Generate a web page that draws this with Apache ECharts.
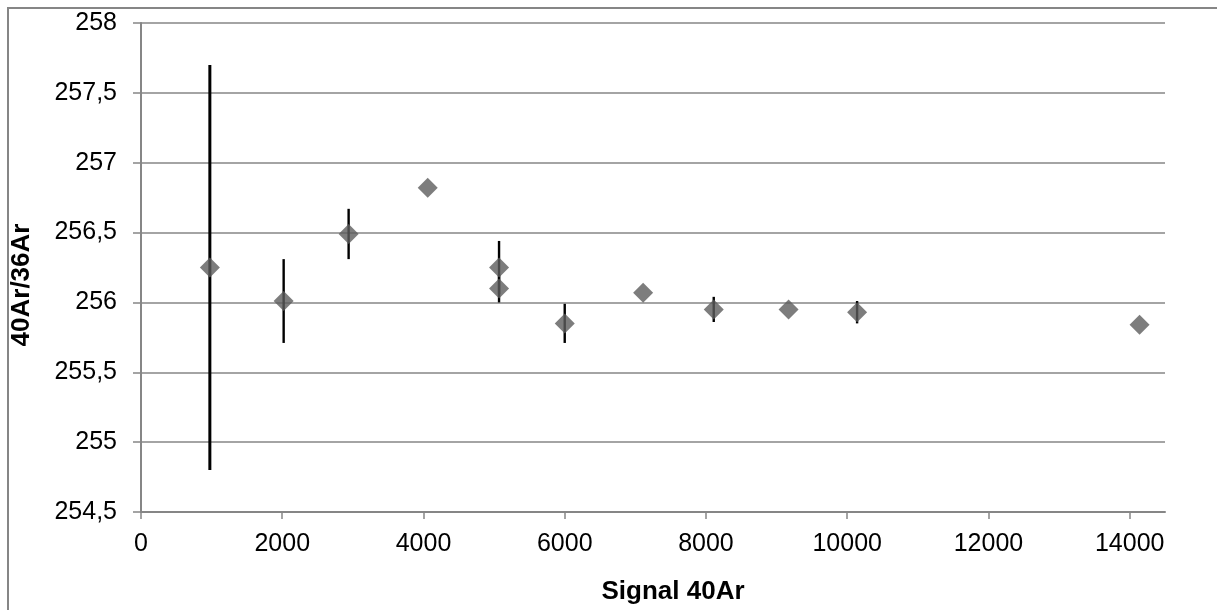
<!DOCTYPE html>
<html>
<head>
<meta charset="utf-8">
<script src="https://cdn.jsdelivr.net/npm/echarts@6/dist/echarts.min.js"></script>
<style>
html,body{margin:0;padding:0;background:#fff;}
#chart{width:1217px;height:610px;}
</style>
</head>
<body>
<div id="chart"></div>
<script>
// Data
const signal40Ar = [975, 2020, 2940, 4060, 5070, 5070, 6000, 7110, 8110, 9170, 10140, 14140];
const ratio4036 = [256.25, 256.01, 256.49, 256.82, 256.25, 256.10, 255.85, 256.07, 255.95, 255.95, 255.93, 255.84];
const ratioError = [1.45, 0.30, 0.18, 0.0, 0.19, 0.10, 0.14, 0.0, 0.09, 0.0, 0.08, 0.0];
const yTicks = [254.5, 255, 255.5, 256, 256.5, 257, 257.5, 258];
const xTicks = [0, 2000, 4000, 6000, 8000, 10000, 12000, 14000];
const xTitle = 'Signal 40Ar';
const yTitle = '40Ar/36Ar';

const points = signal40Ar.map((x, i) => [x, ratio4036[i]]);
const errs = signal40Ar.map((x, i) => [x, ratio4036[i], ratioError[i]]);

const chart = echarts.init(document.getElementById('chart'), null, {renderer: 'canvas'});
const axisGray = '#868686';
const font = 'Liberation Sans, Arial, sans-serif';

chart.setOption({
  animation: false,
  backgroundColor: '#ffffff',
  grid: {left: 141, right: 52, top: 23, bottom: 98, containLabel: false},
  xAxis: {
    type: 'value',
    min: xTicks[0],
    max: 14500,
    interval: xTicks[1] - xTicks[0],
    splitLine: {show: false},
    axisLine: {show: true, onZero: false, lineStyle: {color: axisGray, width: 2}},
    axisTick: {show: true, length: 7, inside: false, lineStyle: {color: axisGray, width: 1.5}},
    axisLabel: {
      showMaxLabel: false,
      color: '#000', fontFamily: font, fontSize: 25, margin: 20,
      formatter: v => xTicks.includes(v) ? String(v) : ''
    }
  },
  yAxis: {
    type: 'value',
    min: yTicks[0],
    max: yTicks[yTicks.length - 1],
    interval: 0.5,
    splitLine: {show: true, lineStyle: {color: axisGray, width: 1.5}},
    axisLine: {show: true, onZero: false, lineStyle: {color: axisGray, width: 2}},
    axisTick: {show: true, length: 8, lineStyle: {color: axisGray, width: 1.5}},
    axisLabel: {
      color: '#000', fontFamily: font, fontSize: 25, margin: 24,
      formatter: v => String(v).replace('.', ',')
    }
  },
  graphic: [
    {type: 'rect', shape: {x: 8, y: 8, width: 1400, height: 800}, style: {fill: 'none', stroke: axisGray, lineWidth: 2}, z: 0, silent: true},
    {type: 'text', x: 673, y: 592, style: {text: xTitle, font: 'bold 26px ' + font, fill: '#000', textAlign: 'center', textVerticalAlign: 'middle'}},
    {type: 'text', x: 22, y: 285, rotation: Math.PI / 2, style: {text: yTitle, font: 'bold 26px ' + font, fill: '#000', textAlign: 'center', textVerticalAlign: 'middle'}}
  ],
  series: [
    {
      type: 'custom',
      data: errs,
      z: 2,
      renderItem: function (params, api) {
        const x = api.value(0), y = api.value(1), e = api.value(2);
        if (!e) return null;
        const p1 = api.coord([x, y + e]);
        const p2 = api.coord([x, y - e]);
        return {
          type: 'line',
          shape: {x1: p1[0], y1: p1[1], x2: p2[0], y2: p2[1]},
          style: {stroke: '#000', lineWidth: params.dataIndex === 0 ? 3 : 2.4}
        };
      }
    },
    {
      type: 'scatter',
      data: points,
      symbol: 'diamond',
      symbolSize: [20, 20],
      z: 3,
      itemStyle: {color: '#5c5c5c'}
    }
  ]
});
</script>
</body>
</html>
